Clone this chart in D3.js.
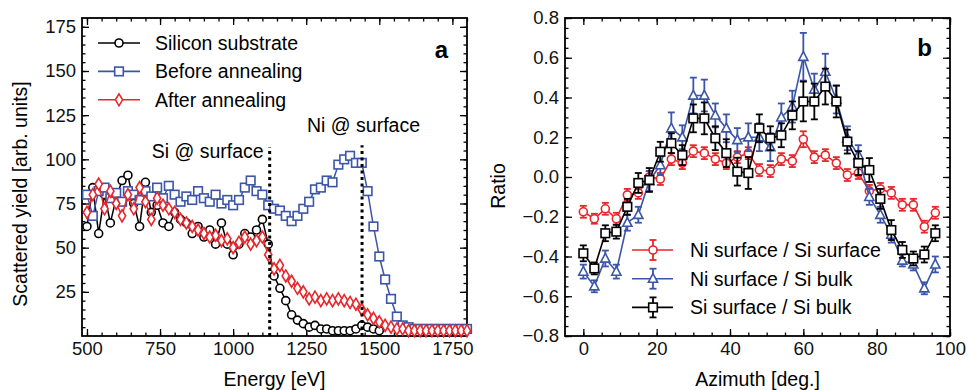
<!DOCTYPE html>
<html>
<head>
<meta charset="utf-8">
<script src="https://cdn.jsdelivr.net/npm/d3@7"></script>
<style>
  body { margin: 0; background: #fff; }
  svg { display: block; font-family: "Liberation Sans", Arial, sans-serif; }
</style>
</head>
<body>
<svg id="chart" width="968" height="390"></svg>
<script>
// ---- panel a : energy spectra ----
const energy = d3.range(500, 1801, 20);
const siSubstrate = [62, 84, 58, 80, 64, 78, 88, 91, 75, 62, 87, 70, 74, 64, 62, 70, 66, 64, 58, 62,
  56, 60, 52, 64, 52, 46, 52, 58, 56, 60, 66, 52, 34, 27, 20, 12, 9, 7, 5, 6,
  4, 4, 3, 3, 3, 3, 4, 6, 5, 4, 3];
const beforeAnneal = [80, 68, 82, 84, 78, 81, 76, 82, 80, 77, 82, 79, 84, 78, 85, 80, 76, 79, 77, 82,
  78, 76, 80, 75, 77, 74, 77, 84, 88, 82, 80, 74, 72, 71, 68, 65, 68, 72, 76, 83,
  84, 88, 87, 97, 100, 102, 98, 98, 82, 62, 45, 32, 21, 11, 6, 5, 4, 4, 4, 4,
  4, 4, 4, 4, 4, 4];
const afterAnneal = [70, 80, 86, 72, 82, 75, 68, 80, 72, 84, 76, 66, 78, 74, 72, 70, 66, 64, 62, 60,
  58, 56, 57, 54, 55, 50, 53, 56, 52, 54, 56, 46, 38, 40, 34, 31, 27, 25, 21, 22,
  20, 21, 20, 21, 20, 19, 18, 15, 12, 10, 8, 6, 5, 4, 4, 3, 3, 3, 3, 3,
  3, 3, 3, 3, 3, 3];
const seriesA = ["Silicon substrate", "Before annealing", "After annealing"];
const markers = [{ e: 1125, top: 107, label: "Si @ surface" }, { e: 1441, top: 108, label: "Ni @ surface" }];

// ---- panel b : azimuthal ratios ----
const azimuth = d3.range(0, 97, 3);
const niSiSurf = [-0.175, -0.21, -0.16, -0.21, -0.09, -0.08, 0.0, -0.01, 0.09, 0.07, 0.13, 0.12, 0.09, 0.07, 0.10, 0.12, 0.035,
  0.03, 0.09, 0.08, 0.19, 0.10, 0.11, 0.07, 0.01, 0.02, -0.07, -0.06, -0.08, -0.14, -0.14, -0.25, -0.18];
const niSiSurfErr = [0.03, 0.025, 0.03, 0.03, 0.03, 0.03, 0.03, 0.03, 0.03, 0.03, 0.03, 0.03, 0.03, 0.03, 0.03, 0.03, 0.03,
  0.03, 0.03, 0.03, 0.04, 0.03, 0.03, 0.03, 0.03, 0.03, 0.03, 0.03, 0.03, 0.03, 0.03, 0.03, 0.03];
const niSiBulk = [-0.476, -0.55, -0.41, -0.476, -0.23, -0.19, -0.02, 0.06, 0.245, 0.20, 0.41, 0.41, 0.31, 0.245, 0.186, 0.20, 0.20,
  0.15, 0.30, 0.354, 0.605, 0.44, 0.53, 0.39, 0.195, 0.11, -0.10, -0.19, -0.29, -0.42, -0.44, -0.56, -0.44];
const niSiBulkErr = [0.035, 0.03, 0.04, 0.035, 0.04, 0.04, 0.05, 0.05, 0.08, 0.06, 0.09, 0.08, 0.06, 0.07, 0.06, 0.07, 0.07,
  0.07, 0.07, 0.08, 0.12, 0.08, 0.09, 0.07, 0.06, 0.05, 0.04, 0.04, 0.04, 0.03, 0.03, 0.03, 0.04];
const siSurfBulk = [-0.384, -0.46, -0.283, -0.275, -0.15, -0.03, -0.015, 0.127, 0.17, 0.11, 0.295, 0.295, 0.195, 0.12, 0.027, 0.02, 0.245,
  0.195, 0.21, 0.31, 0.38, 0.38, 0.455, 0.38, 0.178, 0.07, 0.035, -0.11, -0.267, -0.367, -0.41, -0.39, -0.283];
const siSurfBulkErr = [0.04, 0.03, 0.04, 0.035, 0.04, 0.05, 0.06, 0.05, 0.05, 0.05, 0.07, 0.08, 0.06, 0.07, 0.07, 0.08, 0.07,
  0.06, 0.06, 0.07, 0.1, 0.09, 0.09, 0.08, 0.06, 0.06, 0.06, 0.05, 0.05, 0.04, 0.035, 0.04, 0.04];
const seriesB = ["Ni surface / Si surface", "Ni surface / Si bulk", "Si surface / Si bulk"];

const BLUE = "#3b55a8", RED = "#e8262b", BLACK = "#000";

const svg = d3.select("#chart");
const tickFont = 18.5;   // tick labels
const fontSize = 19.5;   // axis titles, legend, notes

// frame + inward mirrored ticks
function frame(x, y, xMajor, xMinor, yMajor, yMinor, yFmt) {
  const g = svg.append("g");
  const [x0, x1] = x.range(), [y0, y1] = y.range();
  const ax = (axis, tr, vals, size, fmt) => {
    const a = g.append("g").attr("transform", tr)
      .call(axis.tickValues(vals).tickSize(size).tickPadding(6).tickFormat(fmt || ""));
    a.select(".domain").remove();
    a.selectAll("line").attr("stroke", "#000").attr("stroke-width", 1.3);
    a.selectAll("text").attr("font-size", tickFont).attr("fill", "#111").attr("font-family", "Liberation Sans, Arial, sans-serif");
    return a;
  };
  ax(d3.axisBottom(x), `translate(0,${y0})`, xMinor, -3.5);
  ax(d3.axisTop(x), `translate(0,${y1})`, xMinor, -3.5);
  ax(d3.axisLeft(y), `translate(${x0},0)`, yMinor, -3.5);
  ax(d3.axisRight(y), `translate(${x1},0)`, yMinor, -3.5);
  ax(d3.axisBottom(x), `translate(0,${y0})`, xMajor, -7, d3.format("d"));
  ax(d3.axisTop(x), `translate(0,${y1})`, xMajor, -7);
  ax(d3.axisLeft(y), `translate(${x0},0)`, yMajor, -7, yFmt);
  ax(d3.axisRight(y), `translate(${x1},0)`, yMajor, -7);
  g.append("rect").attr("x", x0).attr("y", y1).attr("width", x1 - x0).attr("height", y0 - y1)
    .attr("fill", "none").attr("stroke", "#000").attr("stroke-width", 1.8);
}

function marker(g, type, cx, cy, color) {
  if (type === "circle") {
    g.append("circle").attr("cx", cx).attr("cy", cy).attr("r", 4)
      .attr("fill", "#fff").attr("stroke", color).attr("stroke-width", 1.6);
  } else if (type === "square") {
    g.append("rect").attr("x", cx - 4.3).attr("y", cy - 4.3).attr("width", 8.6).attr("height", 8.6)
      .attr("fill", "#fff").attr("stroke", color).attr("stroke-width", 1.6);
  } else if (type === "diamond") {
    g.append("path").attr("d", `M${cx},${cy - 6}L${cx + 3.6},${cy}L${cx},${cy + 6}L${cx - 3.6},${cy}Z`)
      .attr("fill", "#fff").attr("stroke", color).attr("stroke-width", 1.6);
  } else if (type === "triangle") {
    g.append("path").attr("d", `M${cx},${cy - 5.2}L${cx + 4.6},${cy + 3.6}L${cx - 4.6},${cy + 3.6}Z`)
      .attr("fill", "#fff").attr("stroke", color).attr("stroke-width", 1.6);
  }
}

// ===== Panel a =====
const xA = d3.scaleLinear().domain([483, 1800]).range([82, 467]);
const yA = d3.scaleLinear().domain([0, 180]).range([336, 18]);
frame(xA, yA, d3.range(500, 1751, 250), d3.range(500, 1801, 50), d3.range(25, 176, 25), d3.range(5, 180, 5), d3.format("d"));

const plotA = svg.append("g");
const specs = [
  { vals: siSubstrate, color: BLACK, type: "circle" },
  { vals: beforeAnneal, color: BLUE, type: "square" },
  { vals: afterAnneal, color: RED, type: "diamond" }
];
specs.forEach(s => {
  const pts = s.vals.map((v, i) => [energy[i], v]);
  const line = d3.line().x(d => xA(d[0])).y(d => yA(d[1]));
  const g = plotA.append("g");
  g.append("path").attr("d", line(pts)).attr("fill", "none").attr("stroke", s.color).attr("stroke-width", 1.5);
  pts.forEach(d => marker(g, s.type, xA(d[0]), yA(d[1]), s.color));
});

// dotted edge markers
markers.forEach(m => {
  svg.append("line").attr("x1", xA(m.e)).attr("x2", xA(m.e)).attr("y1", yA(0)).attr("y2", yA(m.top))
    .attr("stroke", "#000").attr("stroke-width", 3).attr("stroke-dasharray", "3,3.5");
});
svg.append("text").attr("x", xA(markers[0].e) - 6).attr("y", 158).attr("text-anchor", "end")
  .attr("font-size", fontSize).text(markers[0].label);
svg.append("text").attr("x", 307).attr("y", 132).attr("font-size", fontSize).text(markers[1].label);

// legend a
specs.forEach((s, i) => {
  const cy = 43 + i * 28.4;
  const g = svg.append("g");
  g.append("line").attr("x1", 98).attr("x2", 140).attr("y1", cy).attr("y2", cy)
    .attr("stroke", s.color).attr("stroke-width", 1.6);
  marker(g, s.type, 119, cy, s.color);
  g.append("text").attr("x", 155).attr("y", cy + 7).attr("font-size", fontSize).text(seriesA[i]);
});
svg.append("text").attr("x", 448).attr("y", 58).attr("text-anchor", "end")
  .attr("font-size", 24).attr("font-weight", "bold").text("a");

svg.append("text").attr("x", 274.5).attr("y", 386).attr("text-anchor", "middle")
  .attr("font-size", fontSize).text("Energy [eV]");
svg.append("text").attr("transform", "translate(27,194) rotate(-90)").attr("text-anchor", "middle")
  .attr("font-size", fontSize).text("Scattered yield [arb. units]");

// ===== Panel b =====
const xB = d3.scaleLinear().domain([-5, 100]).range([565, 950]);
const yB = d3.scaleLinear().domain([-0.8, 0.8]).range([336, 18]);
const fmtB = v => (v < 0 ? "\u2212" : "") + d3.format(".1f")(Math.abs(v));
frame(xB, yB, d3.range(0, 101, 20), d3.range(0, 101, 5), d3.range(-8, 9, 2).map(v => v / 10),
  d3.range(-16, 17, 1).map(v => v / 20), fmtB);

const specsB = [
  { vals: niSiSurf, err: niSiSurfErr, color: RED, type: "circle" },
  { vals: niSiBulk, err: niSiBulkErr, color: BLUE, type: "triangle" },
  { vals: siSurfBulk, err: siSurfBulkErr, color: BLACK, type: "square" }
];
function errBar(g, cx, yTop, yBot, color) {
  g.append("line").attr("x1", cx).attr("x2", cx).attr("y1", yTop).attr("y2", yBot).attr("stroke", color).attr("stroke-width", 1.8);
  [yTop, yBot].forEach(yy => g.append("line").attr("x1", cx - 3.5).attr("x2", cx + 3.5).attr("y1", yy).attr("y2", yy)
    .attr("stroke", color).attr("stroke-width", 1.8));
}
specsB.forEach(s => {
  const g = svg.append("g");
  const line = d3.line().x((d, i) => xB(azimuth[i])).y(d => yB(d));
  g.append("path").attr("d", line(s.vals)).attr("fill", "none").attr("stroke", s.color).attr("stroke-width", 1.6);
  s.vals.forEach((v, i) => errBar(g, xB(azimuth[i]), yB(v + s.err[i]), yB(v - s.err[i]), s.color));
  s.vals.forEach((v, i) => marker(g, s.type, xB(azimuth[i]), yB(v), s.color));
});

// legend b
specsB.forEach((s, i) => {
  const cy = 250 + i * 28.7;
  const g = svg.append("g");
  g.append("line").attr("x1", 632).attr("x2", 673).attr("y1", cy).attr("y2", cy)
    .attr("stroke", s.color).attr("stroke-width", 1.6);
  errBar(g, 653, cy - 10, cy + 10, s.color);
  marker(g, s.type, 653, cy, s.color);
  g.append("text").attr("x", 690).attr("y", cy + 7).attr("font-size", fontSize).text(seriesB[i]);
});
svg.append("text").attr("x", 932).attr("y", 56).attr("text-anchor", "end")
  .attr("font-size", 24).attr("font-weight", "bold").text("b");

svg.append("text").attr("x", 757.5).attr("y", 386).attr("text-anchor", "middle")
  .attr("font-size", fontSize).text("Azimuth [deg.]");
svg.append("text").attr("transform", "translate(505,186) rotate(-90)").attr("text-anchor", "middle")
  .attr("font-size", fontSize).text("Ratio");
</script>
</body>
</html>
